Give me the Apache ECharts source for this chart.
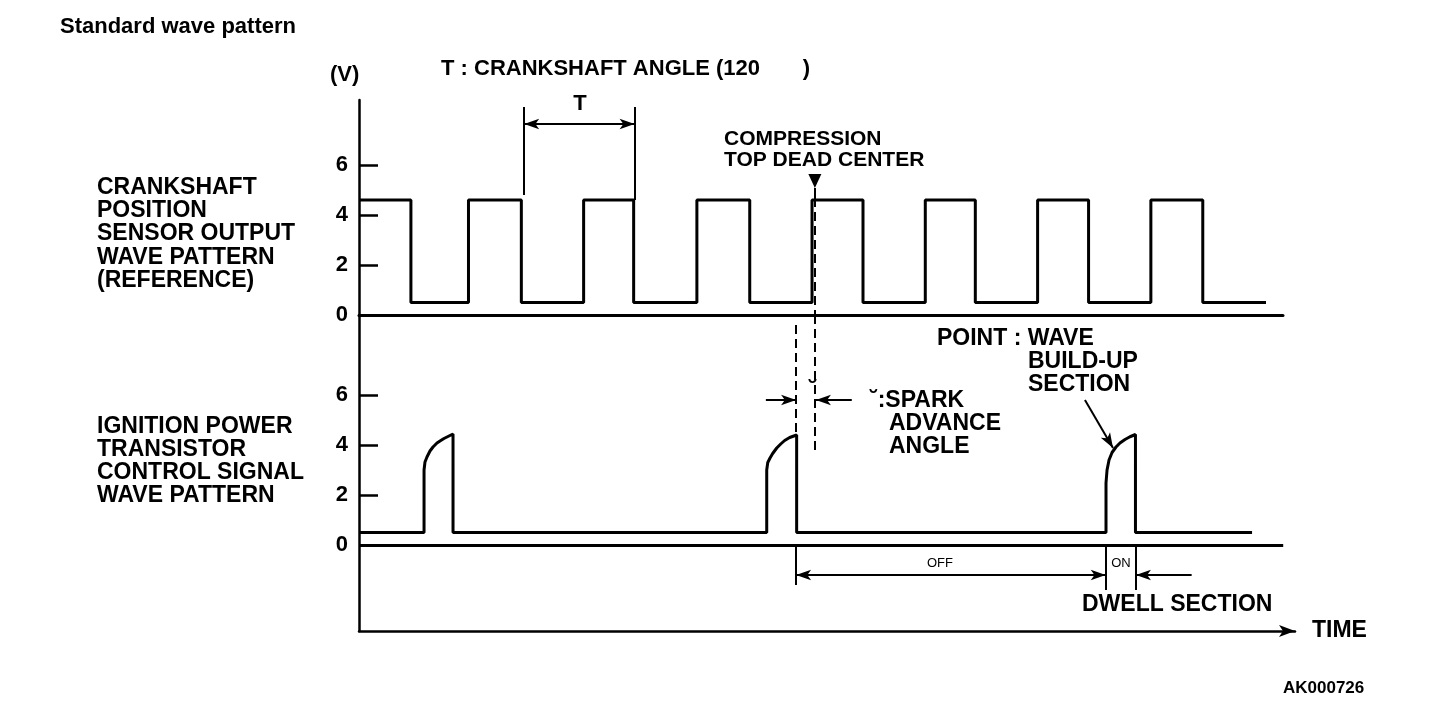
<!DOCTYPE html>
<html>
<head>
<meta charset="utf-8">
<script src="https://cdn.jsdelivr.net/npm/echarts@6/dist/echarts.min.js"></script>
<style>
  html, body { margin: 0; padding: 0; background: #fff; }
  #chart { width: 1456px; height: 706px; }
</style>
</head>
<body>
<div id="chart"></div>
<script>
// x axis = crankshaft angle (deg), y axis = volts
const yTicks = [0, 2, 4, 6];

// crankshaft position sensor: edges where the level flips (starts high)
const crankEdges = [55, 116, 172, 238, 291, 358, 414, 480, 534, 600, 653, 719, 773, 839, 894];
const crankEnd = 961;
const crankHigh = 4.6;
const crankLow = 0.5;

// ignition power transistor control signal (three pulses on a 0.5 V base)
const ignBase = 0.5;
const ignEnd = 946;
const pulse1X = [68.9, 68.9, 69.9, 72.0, 75.2, 78.4, 82.6, 85.8, 90.0, 93.2, 96.4, 99.6, 99.6];
const pulse1V = [0.5, 3.0, 3.32, 3.52, 3.76, 3.92, 4.08, 4.16, 4.26, 4.32, 4.38, 4.44, 0.5];
const pulse2X = [431.9, 431.9, 433.0, 435.4, 438.2, 442.5, 446.7, 450.9, 456.2, 463.6, 463.6];
const pulse2V = [0.5, 3.0, 3.3, 3.48, 3.66, 3.88, 4.04, 4.18, 4.3, 4.4, 0.5];
const pulse3X = [791.3, 791.3, 792.4, 794.5, 797.7, 801.9, 806.1, 811.4, 816.7, 822.5, 822.5];
const pulse3V = [0.5, 2.48, 3.0, 3.4, 3.7, 3.92, 4.08, 4.22, 4.33, 4.42, 0.5];

// annotation positions (deg)
const tStart = 175, tEnd = 292;
const tdcAngle = 483;
const sparkAngle = 463;
const onStart = 791, onEnd = 823;

function buildCrank() {
  let level = crankHigh;
  const pts = [[0, level]];
  crankEdges.forEach(e => {
    pts.push([e, level]);
    level = level === crankHigh ? crankLow : crankHigh;
    pts.push([e, level]);
  });
  pts.push([crankEnd, level]);
  return pts;
}

function buildIgnition() {
  const pts = [[0, ignBase]];
  [[pulse1X, pulse1V], [pulse2X, pulse2V], [pulse3X, pulse3V]].forEach(([xs, vs]) => {
    xs.forEach((x, i) => pts.push([x, vs[i]]));
  });
  pts.push([ignEnd, ignBase]);
  return pts;
}

const FONT = 'Liberation Sans';
const solid = { color: '#000', width: 2, type: 'solid' };
const dashed = { color: '#000', width: 2, type: [9, 5] };
const arrowSize = [8, 15];

function seg(a, b, s1, s2, style) {
  return [
    { coord: a, symbol: s1, symbolSize: arrowSize, lineStyle: style || solid },
    { coord: b, symbol: s2, symbolSize: arrowSize }
  ];
}

function txt(x, y, text, size, weight, align) {
  return {
    type: 'text', x: x, y: y, silent: true,
    style: {
      text: text, fill: '#000', font: (weight || 'bold') + ' ' + size + 'px "' + FONT + '"',
      textAlign: align || 'left', textVerticalAlign: 'middle'
    }
  };
}

const axisText = { color: '#000', fontFamily: FONT, fontWeight: 'bold', fontSize: 22, margin: 11 };

let chart = echarts.init(document.getElementById('chart'));
let option = {
  animation: false,
  backgroundColor: '#fff',
  grid: [
    { left: 359, top: 100, width: 924, height: 215 },
    { left: 359, top: 315, width: 936, height: 316 }
  ],
  xAxis: [
    { gridIndex: 0, type: 'value', min: 0, max: 979,
      axisLine: { show: true, onZero: true, lineStyle: { color: '#000', width: 3 } },
      axisTick: { show: false }, axisLabel: { show: false }, splitLine: { show: false } },
    { gridIndex: 1, type: 'value', min: 0, max: 991.5, position: 'bottom',
      axisLine: { show: true, onZero: false, symbol: ['none', 'arrow'], symbolSize: [9, 16],
        lineStyle: { color: '#000', width: 2.5 } },
      axisTick: { show: false }, axisLabel: { show: false }, splitLine: { show: false } }
  ],
  yAxis: [
    { gridIndex: 0, type: 'value', min: 0, max: 8.6,
      axisLine: { show: true, lineStyle: { color: '#000', width: 2.5 } },
      axisTick: { show: true, inside: true, length: 19, customValues: yTicks, lineStyle: { color: '#000', width: 2.5 } },
      axisLabel: Object.assign({ customValues: yTicks }, axisText),
      splitLine: { show: false } },
    { gridIndex: 1, type: 'value', min: -3.44, max: 9.2,
      axisLine: { show: true, onZero: false, lineStyle: { color: '#000', width: 2.5 } },
      axisTick: { show: true, inside: true, length: 19, customValues: yTicks, lineStyle: { color: '#000', width: 2.5 } },
      axisLabel: Object.assign({ customValues: yTicks }, axisText),
      splitLine: { show: false } }
  ],
  series: [
    {
      name: 'crank', type: 'line', xAxisIndex: 0, yAxisIndex: 0,
      data: buildCrank(), showSymbol: false, clip: false,
      lineStyle: { color: '#000', width: 3 },
      markLine: {
        silent: true, label: { show: false }, emphasis: { disabled: true },
        data: [
          seg([tStart, 4.8], [tStart, 8.32], 'none', 'none'),
          seg([tEnd, 4.6], [tEnd, 8.32], 'none', 'none'),
          seg([tStart, 7.64], [tEnd, 7.64], 'arrow', 'arrow'),
          seg([tdcAngle, 5.08], [tdcAngle, 4.68], 'none', 'none'),
          seg([tdcAngle, 4.68], [tdcAngle, 0], 'none', 'none', dashed)
        ]
      },
      markPoint: {
        silent: true, label: { show: false },
        data: [{ coord: [tdcAngle, 5.36], symbol: 'triangle', symbolRotate: 180, symbolSize: [13, 14],
          itemStyle: { color: '#000' } }]
      }
    },
    {
      name: 'ignition', type: 'line', xAxisIndex: 1, yAxisIndex: 1,
      data: buildIgnition(), showSymbol: false, clip: false,
      lineStyle: { color: '#000', width: 3 },
      markLine: {
        silent: true, label: { show: false }, emphasis: { disabled: true },
        data: [
          seg([0, 0], [979, 0], 'none', 'none', { color: '#000', width: 3, type: 'solid' }),
          seg([tdcAngle, 9.2], [tdcAngle, 3.72], 'none', 'none', dashed),
          seg([sparkAngle, 8.8], [sparkAngle, 4.4], 'none', 'none', dashed),
          seg([431, 5.8], [sparkAngle, 5.8], 'none', 'arrow'),
          seg([522, 5.8], [tdcAngle + 1, 5.8], 'none', 'arrow'),
          seg([769, 5.8], [798.7, 3.88], 'none', 'arrow'),
          seg([sparkAngle, 0], [sparkAngle, -1.6], 'none', 'none'),
          seg([onStart, 0], [onStart, -1.8], 'none', 'none'),
          seg([onEnd, 0], [onEnd, -1.8], 'none', 'none'),
          seg([sparkAngle, -1.2], [onStart, -1.2], 'arrow', 'arrow'),
          seg([882, -1.2], [onEnd, -1.2], 'none', 'arrow')
        ]
      }
    }
  ],
  graphic: [
    txt(60, 27, 'Standard wave pattern', 22),
    txt(330, 75, '(V)', 22),
    txt(441, 69, 'T : CRANKSHAFT ANGLE (120       )', 22),
    txt(580, 104, 'T', 22, 'bold', 'center'),
    txt(724, 139, 'COMPRESSION', 21),
    txt(724, 160, 'TOP DEAD CENTER', 21),
    txt(97, 188, 'CRANKSHAFT', 23),
    txt(97, 211, 'POSITION', 23),
    txt(97, 234, 'SENSOR OUTPUT', 23),
    txt(97, 258, 'WAVE PATTERN', 23),
    txt(97, 281, '(REFERENCE)', 23),
    txt(97, 427, 'IGNITION POWER', 23),
    txt(97, 450, 'TRANSISTOR', 23),
    txt(97, 473, 'CONTROL SIGNAL', 23),
    txt(97, 496, 'WAVE PATTERN', 23),
    txt(937, 339, 'POINT : WAVE', 23),
    txt(1028, 362, 'BUILD-UP', 23),
    txt(1028, 385, 'SECTION', 23),
    txt(870, 401, '˘:SPARK', 23),
    txt(889, 424, 'ADVANCE', 23),
    txt(889, 447, 'ANGLE', 23),
    txt(813, 390, '˘', 24, 'bold', 'center'),
    txt(940, 563, 'OFF', 13, 'normal', 'center'),
    txt(1121, 563, 'ON', 13, 'normal', 'center'),
    txt(1082, 605, 'DWELL SECTION', 23),
    txt(1312, 631, 'TIME', 23),
    txt(1283, 688, 'AK000726', 17)
  ]
};
chart.setOption(option);
</script>
</body>
</html>
